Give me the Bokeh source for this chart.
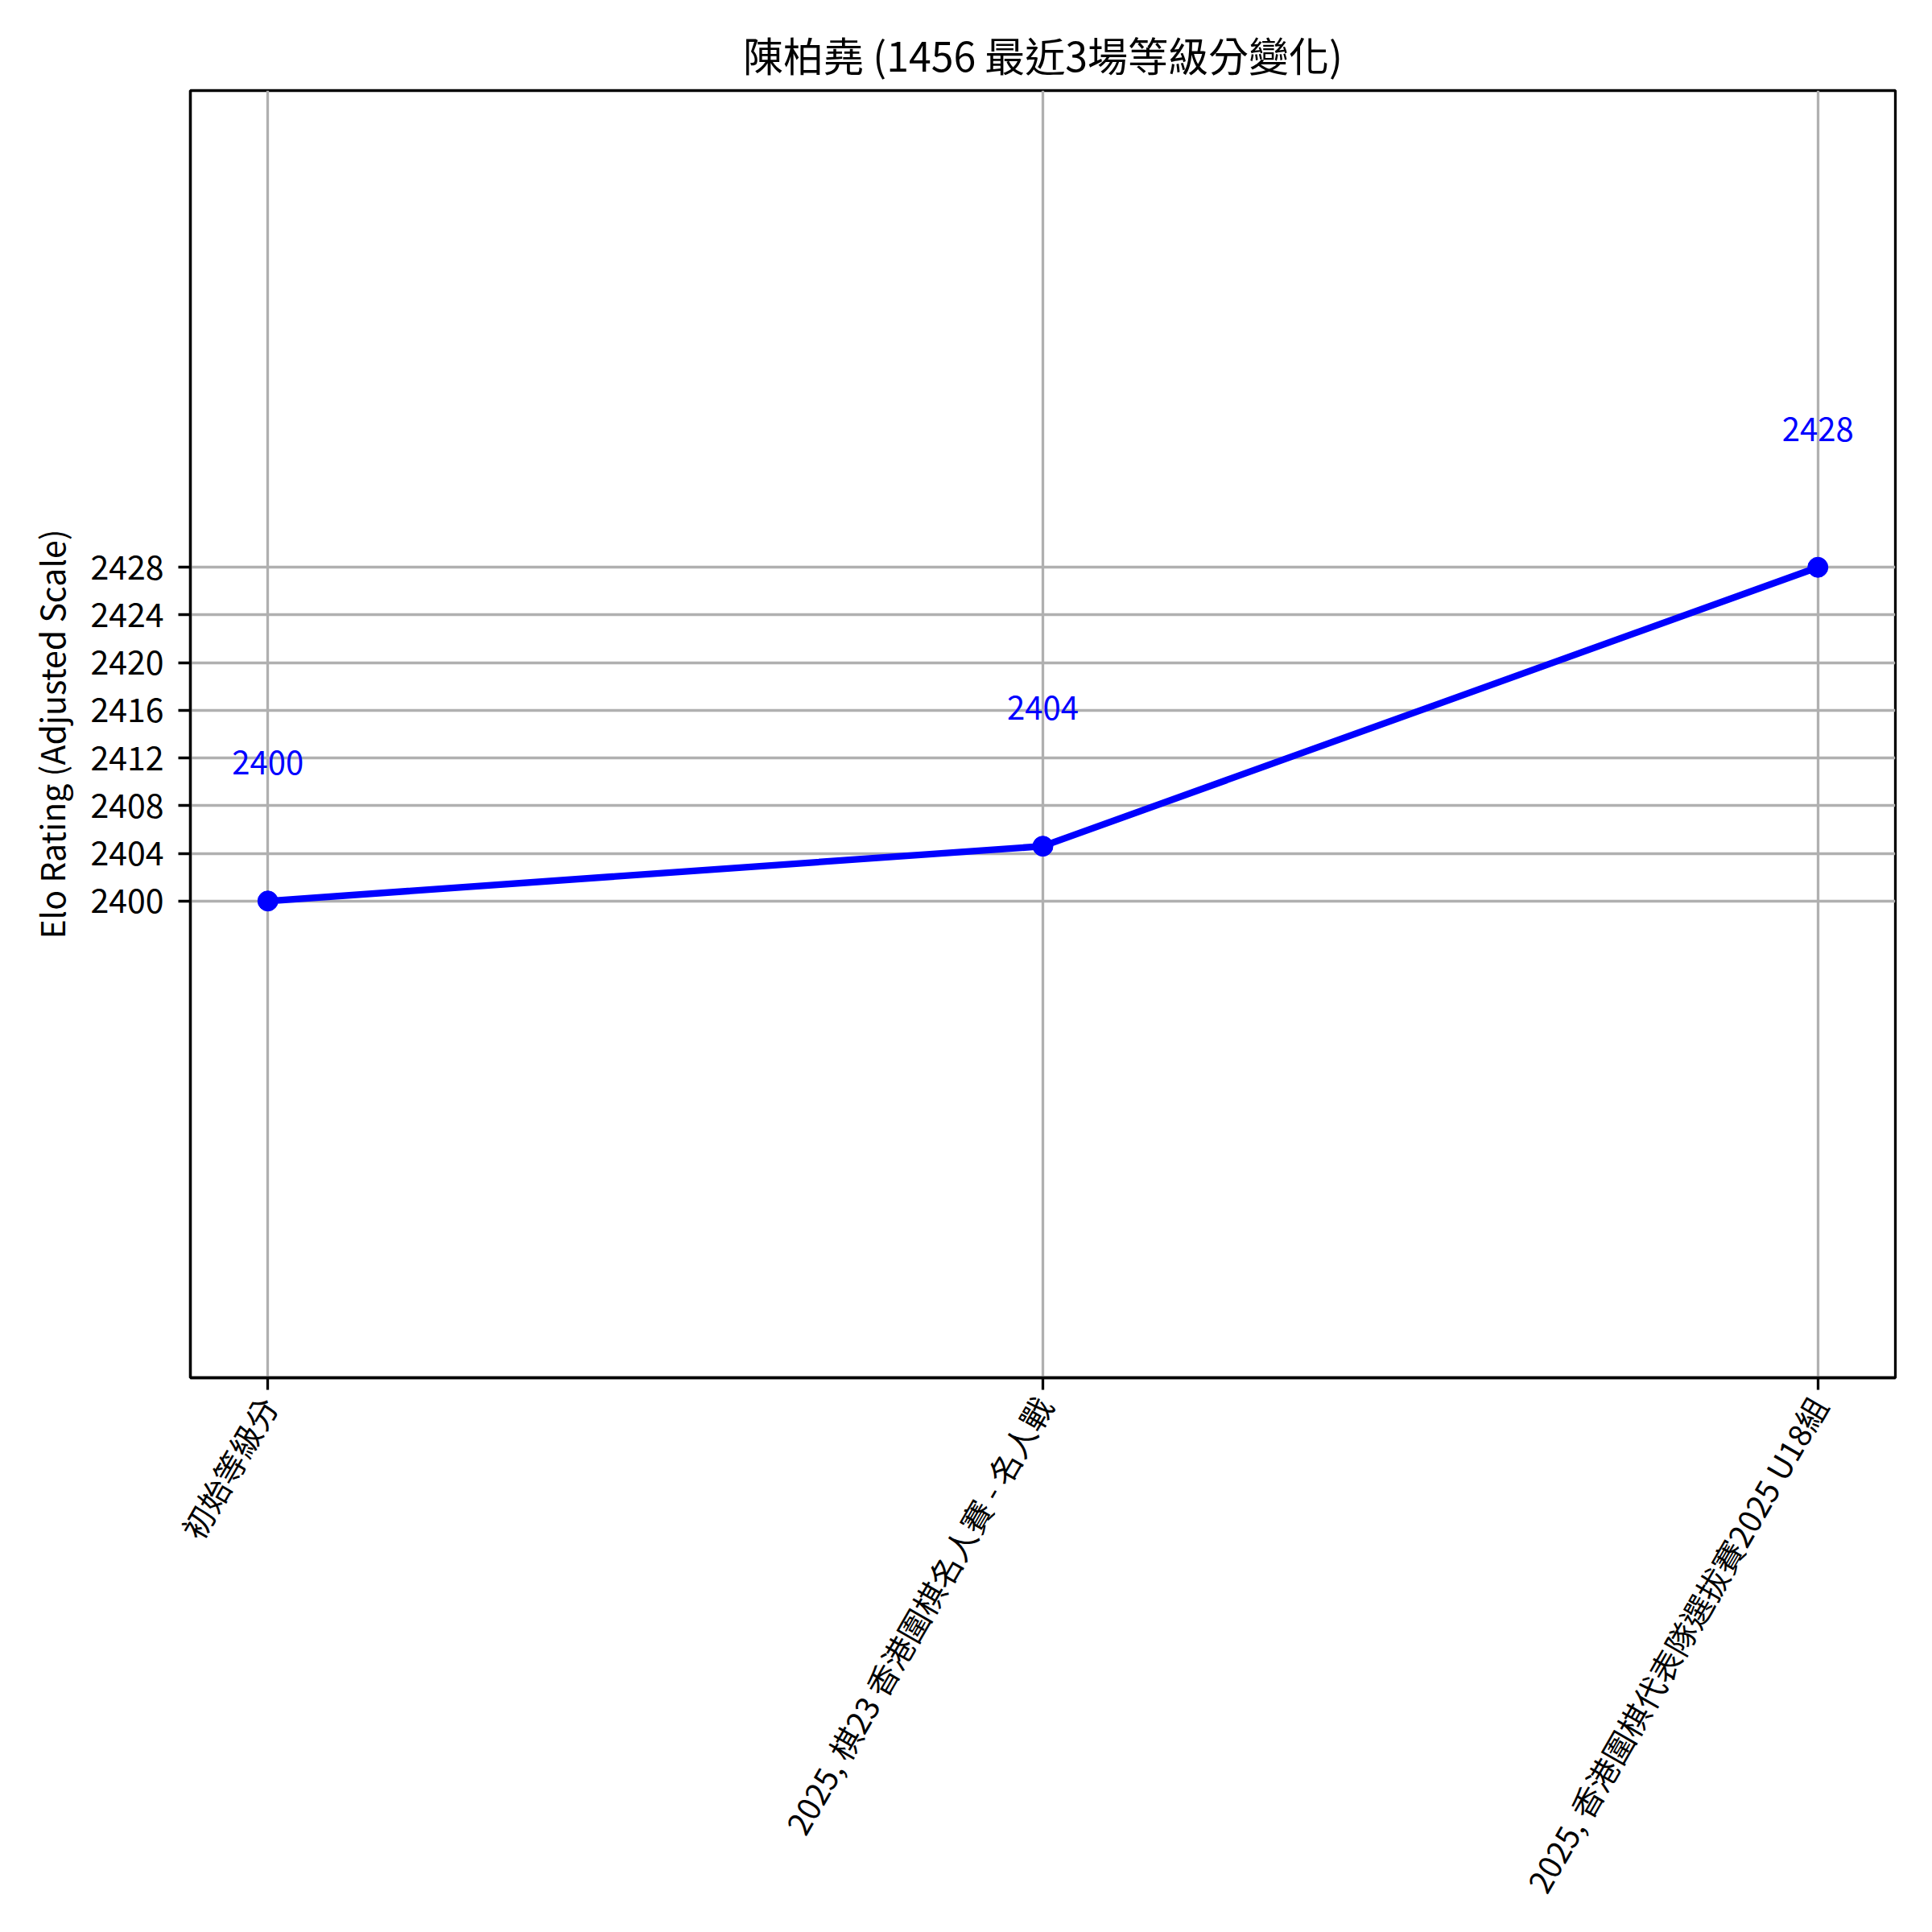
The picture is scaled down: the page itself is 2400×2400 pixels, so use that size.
import math
from bokeh.plotting import figure
from bokeh.models import Range1d, FixedTicker, ColumnDataSource, LabelSet
from bokeh.core.properties import value
from bokeh.embed import file_html
from bokeh.resources import INLINE

# ---- data ----
title_text = "陳柏堯 (1456 最近3場等級分變化)"
y_label = "Elo Rating (Adjusted Scale)"
categories = ["初始等級分", "2025, 棋23 香港圍棋名人賽 - 名人戰", "2025, 香港圍棋代表隊選拔賽2025 U18組"]
ratings = [2400, 2404.6, 2428]
rating_labels = ["2400", "2404", "2428"]
y_ticks = [2400, 2404, 2408, 2412, 2416, 2420, 2424, 2428]

FONT = "Noto Sans CJK TC"

x_pos = list(range(len(categories)))
src = ColumnDataSource(dict(x=x_pos, y=ratings, lab=rating_labels))

p = figure(width=2384, height=2384, output_backend="svg", toolbar_location=None,
           x_range=Range1d(-0.1, len(categories) - 1 + 0.1),
           y_range=Range1d(min(ratings) - 40, max(ratings) + 40),
           min_border_left=236, min_border_right=30, min_border_top=112, min_border_bottom=673,
           title=title_text)

p.background_fill_color = "white"
p.border_fill_color = "white"
p.outline_line_color = "black"
p.outline_line_width = 3.3

p.title.text_font = FONT
p.title.text_font_size = "50px"
p.title.text_font_style = "normal"
p.title.align = "center"
p.title.text_color = "black"
p.title.standoff = 19

# axes
p.xaxis.ticker = FixedTicker(ticks=x_pos)
p.xaxis.major_label_overrides = {i: c for i, c in enumerate(categories)}
p.xaxis.major_label_orientation = math.pi / 3
p.yaxis.ticker = FixedTicker(ticks=y_ticks)
p.yaxis.axis_label = y_label

for ax in (p.xaxis, p.yaxis):
    ax.axis_line_color = "black"
    ax.axis_line_width = 3.3
    ax.major_tick_line_color = "black"
    ax.major_tick_line_width = 3.3
    ax.major_tick_out = 15
    ax.major_tick_in = 0
    ax.minor_tick_line_color = None
    ax.major_label_text_font = FONT
    ax.major_label_text_font_size = "41px"
    ax.major_label_text_color = "black"
    ax.axis_label_text_font = FONT
    ax.axis_label_text_font_size = "41px"
    ax.axis_label_text_font_style = "normal"
    ax.axis_label_text_color = "black"

p.xaxis.major_label_text_font_size = "39px"
p.yaxis.major_label_standoff = 18
p.yaxis.axis_label_standoff = 16
p.xaxis.major_label_standoff = 12

# grid
p.xgrid.ticker = FixedTicker(ticks=x_pos)
p.ygrid.ticker = FixedTicker(ticks=y_ticks)
for g in (p.xgrid, p.ygrid):
    g.grid_line_color = "#b0b0b0"
    g.grid_line_width = 3.3

# data
p.line("x", "y", source=src, line_color="blue", line_width=8.3)
p.scatter("x", "y", source=src, size=25, fill_color="blue", line_color="blue")

labels = LabelSet(x="x", y="y", text="lab", source=src, y_offset=157,
                  text_align="center", text_baseline="alphabetic",
                  text_font=value(FONT), text_font_size="40px", text_color="blue")
p.add_layout(labels)

open("out.html", "w").write(file_html(p, INLINE))
